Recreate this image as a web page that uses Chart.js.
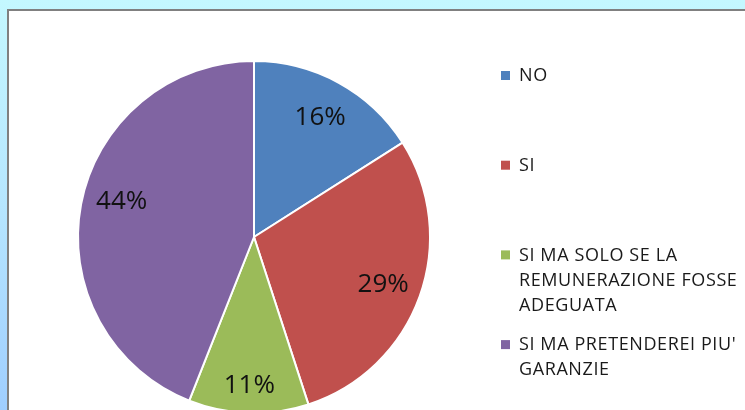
<!DOCTYPE html>
<html>
<head>
<meta charset="utf-8">
<script src="https://cdn.jsdelivr.net/npm/chart.js@4/dist/chart.umd.min.js"></script>
<style>
  html, body { margin: 0; padding: 0; width: 745px; height: 410px; overflow: hidden; }
  body { background: linear-gradient(to bottom, #c4f8ff 0%, #b6e6ff 50%, #9fceff 100%); position: relative; }
  #frame { position: absolute; left: 7px; top: 9px; width: 800px; height: 460px; background: #fff;
           border-left: 2px solid #808080; border-top: 2px solid #808080; box-sizing: border-box; }
  #wrap { position: absolute; left: 9px; top: 11px; width: 736px; height: 450px; }
</style>
</head>
<body>
<div id="frame"></div>
<div id="wrap"><canvas id="c" width="736" height="450"></canvas></div>
<script>
const categories = [
  ['NO'],
  ['SI'],
  ['SI MA SOLO SE LA', 'REMUNERAZIONE FOSSE', 'ADEGUATA'],
  ["SI MA PRETENDEREI PIU'", 'GARANZIE']
];
const percentages = [16, 29, 11, 44];
const sliceColors = ['#4F81BD', '#C0504D', '#9BBB59', '#8064A2'];

const pctLabels = {
  id: 'pctLabels',
  afterDatasetsDraw(chart) {
    const ctx = chart.ctx;
    const meta = chart.getDatasetMeta(0);
    ctx.save();
    ctx.font = '26px "Open Sans"';
    ctx.fillStyle = '#111';
    ctx.textAlign = 'center';
    ctx.textBaseline = 'middle';
    meta.data.forEach((arc, i) => {
      const p = arc.getProps(['x', 'y', 'startAngle', 'endAngle', 'outerRadius'], true);
      const mid = (p.startAngle + p.endAngle) / 2 + (i === 3 ? 0.08 : 0);
      const r = p.outerRadius * (i === 2 ? 0.84 : 0.78);
      ctx.fillText(chart.data.datasets[0].data[i] + '%', p.x + Math.cos(mid) * r, p.y + Math.sin(mid) * r + 1);
    });
    ctx.restore();
  }
};

const sideLegend = {
  id: 'sideLegend',
  afterDraw(chart) {
    const ctx = chart.ctx;
    ctx.save();
    ctx.font = '18px "Open Sans"';
    if ('letterSpacing' in ctx) ctx.letterSpacing = '0.6px';
    ctx.textBaseline = 'middle';
    ctx.textAlign = 'left';
    const x0 = 492, firstY = 65, step = 89.7, lineH = 25;
    chart.data.labels.forEach((lines, i) => {
      const y = firstY + i * step;
      ctx.fillStyle = chart.data.datasets[0].backgroundColor[i];
      ctx.fillRect(x0, y - 5, 9, 9);
      ctx.fillStyle = '#1a1a1a';
      lines.forEach((t, j) => ctx.fillText(t, x0 + 18, y + j * lineH));
    });
    ctx.restore();
  }
};

new Chart(document.getElementById('c'), {
  type: 'pie',
  data: {
    labels: categories,
    datasets: [{
      data: percentages,
      backgroundColor: sliceColors,
      borderColor: '#ffffff',
      borderWidth: 2
    }]
  },
  options: {
    responsive: false,
    animation: false,
    layout: { padding: { left: 67, top: 49, right: 313, bottom: 47 } },
    plugins: { legend: { display: false }, tooltip: { enabled: false } }
  },
  plugins: [pctLabels, sideLegend]
});
</script>
</body>
</html>
